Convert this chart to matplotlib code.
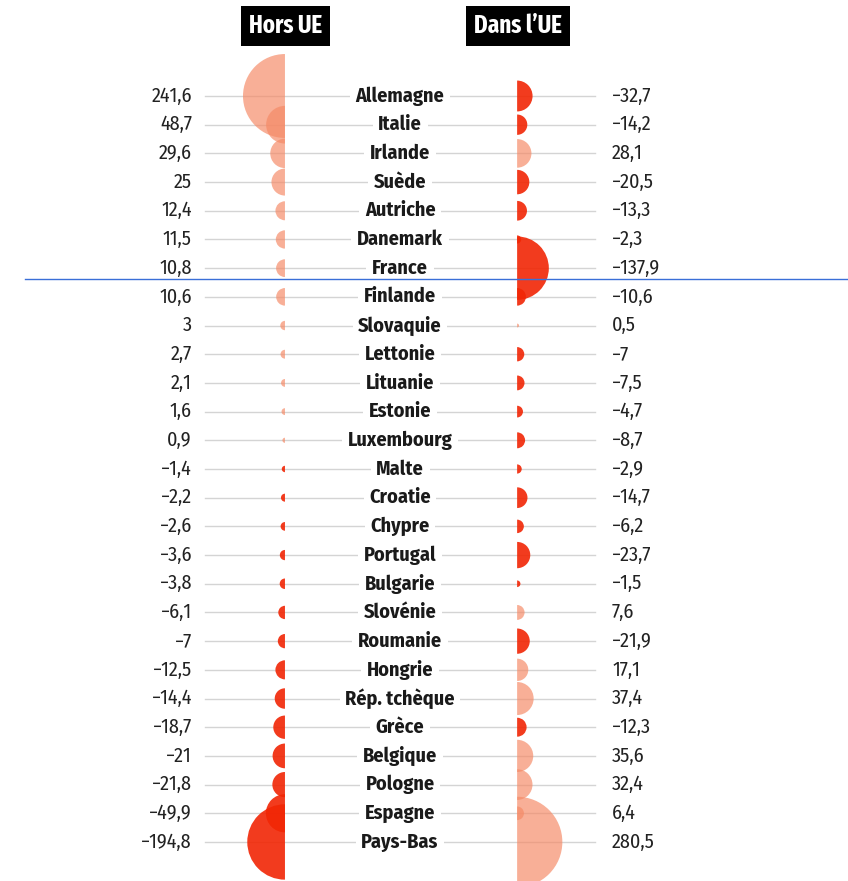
import matplotlib
matplotlib.use("Agg")
import matplotlib.pyplot as plt
from matplotlib.patches import Wedge
from matplotlib.lines import Line2D
from matplotlib import font_manager

# data (Mds €)
pays = ["Allemagne", "Italie", "Irlande", "Suède", "Autriche", "Danemark",
        "France", "Finlande", "Slovaquie", "Lettonie", "Lituanie", "Estonie",
        "Luxembourg", "Malte", "Croatie", "Chypre", "Portugal", "Bulgarie",
        "Slovénie", "Roumanie", "Hongrie", "Rép. tchèque", "Grèce", "Belgique",
        "Pologne", "Espagne", "Pays-Bas"]
hors_ue = [241.6, 48.7, 29.6, 25, 12.4, 11.5, 10.8, 10.6, 3, 2.7, 2.1, 1.6,
           0.9, -1.4, -2.2, -2.6, -3.6, -3.8, -6.1, -7, -12.5, -14.4, -18.7,
           -21, -21.8, -49.9, -194.8]
dans_ue = [-32.7, -14.2, 28.1, -20.5, -13.3, -2.3, -137.9, -10.6, 0.5, -7,
           -7.5, -4.7, -8.7, -2.9, -14.7, -6.2, -23.7, -1.5, 7.6, -21.9, 17.1,
           37.4, -12.3, 35.6, 32.4, 6.4, 280.5]
titres = ["Hors UE", "Dans l\u2019UE"]

installed = {f.name for f in font_manager.fontManager.ttflist}
fams = [f for f in ["Fira Sans Condensed", "Asap Condensed"] if f in installed]
plt.rcParams["font.family"] = fams[:1] + ["DejaVu Sans"]
if "Fira Sans Extra Condensed" in installed:
    title_font, title_size = ["Fira Sans Extra Condensed", "DejaVu Sans"], 18
else:
    title_font, title_size = plt.rcParams["font.family"], 16

POS = "#f58a66"
NEG = "#f12605"
K = 0.0941  # radius in rows per sqrt(value)


def fmt(v):
    s = f"{abs(v):g}".replace(".", ",")
    return ("\u2212" + s) if v < 0 else s


fig = plt.figure(figsize=(8.48, 8.81), dpi=100)
ax = fig.add_axes([0, 0, 1, 1])
ax.set_xlim(-13.94, 15.61)
ax.set_ylim(27.36, -3.346)
ax.axis("off")

xl, xr = -4.01, 4.08
for i, (p, a, b) in enumerate(zip(pays, hors_ue, dans_ue)):
    ax.plot([-6.8, 6.8], [i, i], color="#d4d4d4", lw=1, zorder=1)
    ax.text(0, i, p, ha="center", va="center", fontsize=14.5, fontweight="bold",
            color="#1a1a1a", zorder=6,
            bbox=dict(facecolor="white", edgecolor="none", pad=4))
    ax.text(-7.25, i, fmt(a), ha="right", va="center", fontsize=14.5, color="#222222")
    ax.text(7.39, i, fmt(b), ha="left", va="center", fontsize=14.5, color="#222222")
    ax.add_patch(Wedge((xl, i), K * abs(a) ** 0.5, 90, 270,
                       color=POS if a > 0 else NEG,
                       alpha=0.68 if a > 0 else 0.9, lw=0, zorder=4))
    ax.add_patch(Wedge((xr, i), K * abs(b) ** 0.5, -90, 90,
                       color=POS if b > 0 else NEG,
                       alpha=0.68 if b > 0 else 0.9, lw=0, zorder=4))

for x, t in zip([xl + 0.02, xr + 0.03], titres):
    ax.text(x, -2.44, t, ha="center", va="center", fontsize=title_size,
            fontweight="bold", color="white", family=title_font,
            bbox=dict(facecolor="black", edgecolor="none", pad=5.5))

# blue guide line visible on the reference
fig.add_artist(Line2D([25 / 848, 1], [1 - 279 / 881, 1 - 279 / 881],
                      color="#3a6fd8", lw=1))

fig.savefig("out.png", dpi=100)
